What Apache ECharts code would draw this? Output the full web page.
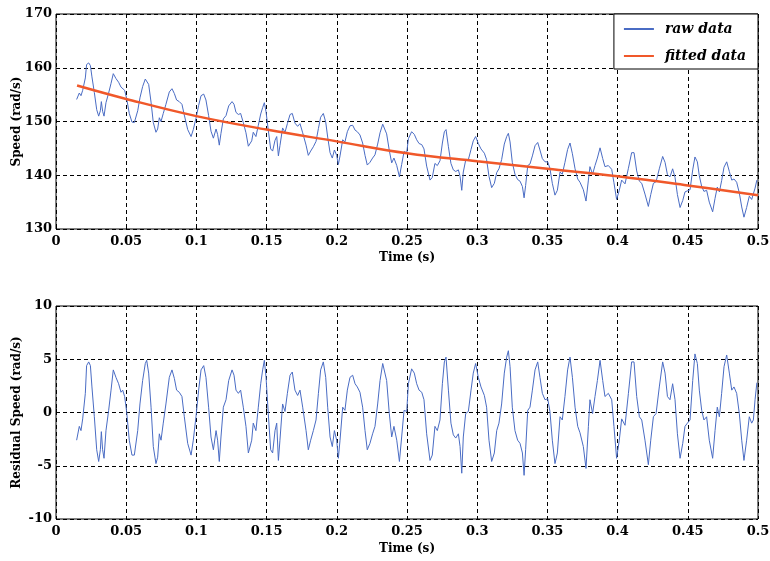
<!DOCTYPE html>
<html>
<head>
<meta charset="utf-8">
<script src="https://cdn.jsdelivr.net/npm/echarts@6/dist/echarts.min.js"></script>
<style>html,body{margin:0;padding:0;background:#fff;}#c{width:770px;height:561px;}</style>
</head>
<body>
<div id="c"></div>
<script>
const timeS = [0.0147,0.0166,0.0178,0.019,0.0209,0.0218,0.0233,0.0245,0.0256,0.0273,0.029,0.0304,0.0316,0.0323,0.0332,0.0342,0.0356,0.0375,0.0392,0.0408,0.0427,0.0446,0.0463,0.0475,0.0489,0.0503,0.0522,0.0541,0.0558,0.0582,0.0598,0.0617,0.0636,0.0646,0.066,0.0677,0.0693,0.0712,0.0724,0.0736,0.0748,0.0764,0.0783,0.0807,0.0826,0.0843,0.0859,0.0878,0.0897,0.0914,0.0938,0.0962,0.0978,0.0997,0.1016,0.1033,0.1052,0.1068,0.1087,0.1104,0.1121,0.114,0.1151,0.1163,0.1175,0.1192,0.1211,0.123,0.1254,0.1268,0.1282,0.1299,0.1315,0.1334,0.1353,0.137,0.1382,0.1394,0.1405,0.1424,0.1441,0.1458,0.1472,0.1484,0.1496,0.1512,0.1529,0.1543,0.156,0.1572,0.1584,0.1595,0.1614,0.1631,0.1648,0.1667,0.1683,0.1702,0.1721,0.1738,0.1757,0.1781,0.1797,0.1814,0.1833,0.1852,0.1869,0.1885,0.1904,0.1921,0.1935,0.1952,0.1968,0.1983,0.1999,0.2011,0.2023,0.2042,0.2058,0.2075,0.2094,0.2113,0.213,0.2146,0.2165,0.2184,0.2201,0.2217,0.2236,0.2255,0.2272,0.2291,0.2308,0.2327,0.2339,0.2355,0.2374,0.2391,0.2407,0.2427,0.2446,0.2462,0.2479,0.2498,0.251,0.2533,0.2552,0.2569,0.2586,0.2605,0.2621,0.264,0.2664,0.268,0.2699,0.2716,0.2735,0.2752,0.2766,0.2778,0.2795,0.2813,0.283,0.2847,0.2866,0.2878,0.289,0.2901,0.2918,0.2937,0.2956,0.2972,0.2989,0.3008,0.3027,0.3051,0.3067,0.3084,0.3103,0.3122,0.3139,0.3155,0.3174,0.3193,0.321,0.3222,0.3234,0.325,0.3269,0.3288,0.3305,0.3322,0.3334,0.3345,0.336,0.3376,0.3393,0.3412,0.3431,0.3447,0.3464,0.3483,0.3502,0.3518,0.3535,0.3554,0.3571,0.359,0.3606,0.3625,0.3644,0.3661,0.3678,0.3697,0.3716,0.3732,0.3756,0.3775,0.3792,0.3803,0.3822,0.3839,0.3856,0.3875,0.3894,0.391,0.3934,0.3958,0.3974,0.3993,0.4012,0.4029,0.4053,0.4077,0.41,0.4117,0.4136,0.4155,0.4172,0.4195,0.4219,0.4236,0.4255,0.4274,0.4297,0.4321,0.4338,0.4355,0.4373,0.4392,0.4409,0.4426,0.4445,0.4464,0.448,0.4497,0.4516,0.4535,0.4551,0.4568,0.4582,0.4599,0.4615,0.4634,0.4653,0.4677,0.4694,0.471,0.4725,0.4741,0.4758,0.4777,0.4796,0.4813,0.4829,0.4848,0.4867,0.4884,0.49,0.4919,0.4938,0.4955,0.4967,0.4979,0.4992];

const residualSpeed = [-2.6,-1.3,-1.7,-0.6,1.8,4.4,4.75,4.4,2.4,-0.4,-3.5,-4.6,-3.5,-1.8,-3.5,-4.3,-1.7,0.2,2.1,4.0,3.3,2.7,1.9,2.1,1.5,0.1,-2.6,-4.0,-4.0,-1.7,0.8,3.0,4.6,4.9,3.7,0.5,-3.2,-4.8,-4.2,-2.0,-2.6,-1.0,0.8,3.3,4.0,3.2,2.1,1.9,1.5,-0.4,-2.9,-4.0,-2.6,-0.4,2.1,4.0,4.4,3.3,0.5,-2.3,-3.5,-1.7,-2.6,-4.6,-2.3,0.5,1.2,3.0,4.0,3.5,2.1,1.8,2.1,0.5,-1.3,-3.8,-3.7,-2.6,-1.0,-1.7,0.5,2.7,4.0,4.9,3.3,-0.1,-3.5,-3.8,-1.7,-1.0,-4.5,-2.6,0.8,0.1,1.8,3.5,3.8,2.1,1.6,2.1,0.5,-1.7,-3.5,-2.6,-1.7,-0.7,1.8,4.0,4.75,3.3,0.5,-2.3,-3.2,-1.7,-2.6,-4.3,-2.6,0.5,0.2,2.1,3.3,3.5,2.7,2.4,1.9,0.5,-1.7,-3.5,-2.9,-2.0,-1.3,0.8,3.0,4.6,4.75,3.0,-0.1,-2.3,-1.3,-2.6,-4.6,-2.3,0.2,0.1,2.7,4.1,3.7,2.7,2.1,1.9,1.2,-2.0,-4.5,-4.0,-1.3,-1.7,-0.7,2.7,4.75,5.2,2.1,-1.0,-2.1,-2.4,-2.0,-3.2,-5.7,-2.3,-0.1,0.1,2.1,3.7,4.6,3.3,2.4,1.6,0.5,-2.6,-4.6,-3.8,-1.7,-1.0,0.8,3.7,5.2,5.8,4.3,0.5,-1.7,-2.6,-2.9,-3.8,-5.9,-3.5,0.2,0.5,2.1,4.0,4.75,3.3,1.8,1.2,1.3,0.1,-2.6,-4.8,-3.8,-0.4,-0.7,1.5,4.0,5.2,3.3,0.5,-1.3,-1.9,-3.2,-5.25,-1.3,1.2,-0.1,1.5,3.0,4.9,3.0,1.5,1.8,1.2,-1.3,-4.3,-2.6,-0.6,-1.2,1.8,4.75,4.75,1.5,-0.4,-0.7,-2.6,-4.9,-2.6,-0.4,-0.1,2.4,4.75,3.7,1.5,1.2,2.7,1.2,-2.0,-4.3,-2.9,-1.3,-1.0,-0.7,3.0,5.5,4.6,2.1,0.2,-0.7,-0.4,-2.6,-4.3,-1.7,0.5,-0.4,1.8,4.3,5.4,3.7,2.1,2.4,1.8,-0.1,-2.6,-4.5,-2.6,-0.4,-1.0,-0.7,1.2,2.8];

const rawSpeed = [154.1,155.3,154.8,155.8,158.1,160.6,160.9,160.4,158.3,155.4,152.2,151.0,152.0,153.7,151.9,151.0,153.5,155.3,157.1,158.9,158.0,157.3,156.4,156.5,155.8,154.3,151.5,149.9,149.8,152.0,154.4,156.5,157.9,158.2,156.9,153.6,149.8,148.0,148.6,150.7,150.0,151.5,153.2,155.5,156.1,155.2,154.0,153.7,153.2,151.2,148.5,147.2,148.5,150.6,153.0,154.8,155.1,154.0,151.1,148.2,146.9,148.6,147.6,145.6,147.8,150.5,151.1,152.9,153.7,153.2,151.7,151.3,151.5,149.8,147.9,145.4,145.4,146.4,148.0,147.2,149.3,151.4,152.6,153.5,151.8,148.4,144.9,144.5,146.5,147.2,143.6,145.5,148.8,148.0,149.6,151.3,151.5,149.7,149.1,149.6,147.9,145.6,143.7,144.5,145.3,146.3,148.7,150.8,151.5,149.9,147.1,144.2,143.2,144.7,143.7,142.0,143.6,146.6,146.2,148.1,149.2,149.3,148.4,148.1,147.5,146.0,143.7,141.9,142.4,143.2,143.8,145.8,147.9,149.5,149.6,147.7,144.6,142.3,143.2,141.8,139.7,142.0,144.4,144.2,146.8,148.1,147.6,146.6,145.9,145.7,144.9,141.7,139.1,139.6,142.2,141.8,142.7,146.0,148.1,148.5,145.3,142.2,141.0,140.7,141.0,139.8,137.2,140.6,142.8,142.9,144.8,146.4,147.2,145.9,144.9,144.1,142.9,139.8,137.7,138.5,140.5,141.2,142.9,145.8,147.2,147.8,146.2,142.4,140.2,139.2,138.9,137.9,135.8,138.1,141.8,142.1,143.6,145.5,146.1,144.7,143.1,142.5,142.5,141.3,138.5,136.3,137.2,140.6,140.2,142.4,144.8,146.0,144.0,141.2,139.3,138.7,137.3,135.2,139.1,141.6,140.2,141.8,143.2,145.1,143.1,141.6,141.8,141.1,138.6,135.5,137.2,139.1,138.4,141.3,144.2,144.2,140.8,138.9,138.5,136.5,134.2,136.4,138.5,138.8,141.2,143.5,142.4,140.1,139.7,141.2,139.6,136.4,134.0,135.3,136.9,137.1,137.3,141.0,143.4,142.5,139.9,137.9,137.0,137.2,135.0,133.2,135.7,137.8,136.9,139.0,141.5,142.5,140.7,139.1,139.3,138.7,136.7,134.1,132.2,134.0,136.1,135.5,135.7,137.6,139.1];

const fitTime = [0.015,0.05,0.1,0.15,0.2,0.25,0.3,0.35,0.4,0.45,0.5];
const fitSpeed = [156.7,154.2,151.0,148.5,146.3,144.1,142.6,141.2,139.8,138.1,136.3];

const xTickLabels = ['0','0.05','0.1','0.15','0.2','0.25','0.3','0.35','0.4','0.45','0.5'];
const speedTicks = ['130','140','150','160','170'];
const residualTicks = ['-10','-5','0','5','10'];

const rawPairs = timeS.map((t,i)=>[t, rawSpeed[i]]);
const resPairs = timeS.map((t,i)=>[t, residualSpeed[i]]);
const fitPairs = fitTime.map((t,i)=>[t, fitSpeed[i]]);

const FONT = 'DejaVu Serif';
const labelStyle = {color:'#000', fontFamily:FONT, fontWeight:'bold', fontSize:13};
const nameStyle = {color:'#000', fontFamily:FONT, fontWeight:'bold', fontSize:12};
const dashed = {show:true, lineStyle:{color:'#000', type:[4,3], width:1}};

function xAxis(gi, gap){
  return {
    type:'value', gridIndex:gi, min:0, max:0.5, interval:0.05,
    name:'Time (s)', nameLocation:'middle', nameGap:gap, nameMoveOverlap:false,
    nameTextStyle:nameStyle,
    axisLine:{show:false}, axisTick:{show:true, inside:true, length:4, lineStyle:{color:'#000'}},
    axisLabel:{...labelStyle, margin:6, formatter:(v)=>xTickLabels[Math.round(v/0.05)]},
    splitLine:dashed
  };
}

const chart = echarts.init(document.getElementById('c'), null, {renderer:'canvas'});
chart.setOption({
  animation:false,
  backgroundColor:'#fff',
  grid:[
    {left:56, top:14, width:702, height:215, show:true, borderColor:'#000', borderWidth:1, backgroundColor:'transparent', outerBoundsMode:'none', containLabel:false},
    {left:56, top:306, width:702, height:213, show:true, borderColor:'#000', borderWidth:1, backgroundColor:'transparent', outerBoundsMode:'none', containLabel:false}
  ],
  legend:{
    data:[{name:'raw data', icon:'rect'},{name:'fitted data', icon:'rect'}], orient:'vertical', right:12, top:14,
    backgroundColor:'#fff', borderColor:'#000', borderWidth:1, borderRadius:0,
    padding:[8,12,6,10], itemWidth:30, itemHeight:2, itemGap:13,
    textStyle:{color:'#000', fontFamily:FONT, fontStyle:'italic', fontWeight:'bold', fontSize:14, padding:[0,0,0,6]}
  },
  xAxis:[xAxis(0, 23), xAxis(1, 24)],
  yAxis:[
    {type:'value', gridIndex:0, min:130, max:170, interval:10,
     name:'Speed (rad/s)', nameLocation:'middle', nameGap:33, nameMoveOverlap:false,
     nameTextStyle:nameStyle,
     axisLine:{show:false}, axisTick:{show:true, inside:true, length:4, lineStyle:{color:'#000'}},
     axisLabel:{...labelStyle, margin:4, formatter:(v)=>speedTicks[Math.round((v-130)/10)]},
     splitLine:dashed},
    {type:'value', gridIndex:1, min:-10, max:10, interval:5,
     name:'Residual Speed (rad/s)', nameLocation:'middle', nameGap:33, nameMoveOverlap:false,
     nameTextStyle:nameStyle,
     axisLine:{show:false}, axisTick:{show:true, inside:true, length:4, lineStyle:{color:'#000'}},
     axisLabel:{...labelStyle, margin:4, formatter:(v)=>residualTicks[Math.round((v+10)/5)]},
     splitLine:dashed}
  ],
  series:[
    {name:'raw data', type:'line', xAxisIndex:0, yAxisIndex:0, data:rawPairs, symbol:'none',
     lineStyle:{color:'#4a6cc4', width:1}, itemStyle:{color:'#4a6cc4'}, z:3},
    {name:'fitted data', type:'line', xAxisIndex:0, yAxisIndex:0, data:fitPairs, symbol:'none', smooth:0.4,
     lineStyle:{color:'#f0582a', width:2.5}, itemStyle:{color:'#f0582a'}, z:4},
    {name:'residual', type:'line', xAxisIndex:1, yAxisIndex:1, data:resPairs, symbol:'none',
     lineStyle:{color:'#4a6cc4', width:1}, itemStyle:{color:'#4a6cc4'}, z:3}
  ]
});
</script>
</body>
</html>
